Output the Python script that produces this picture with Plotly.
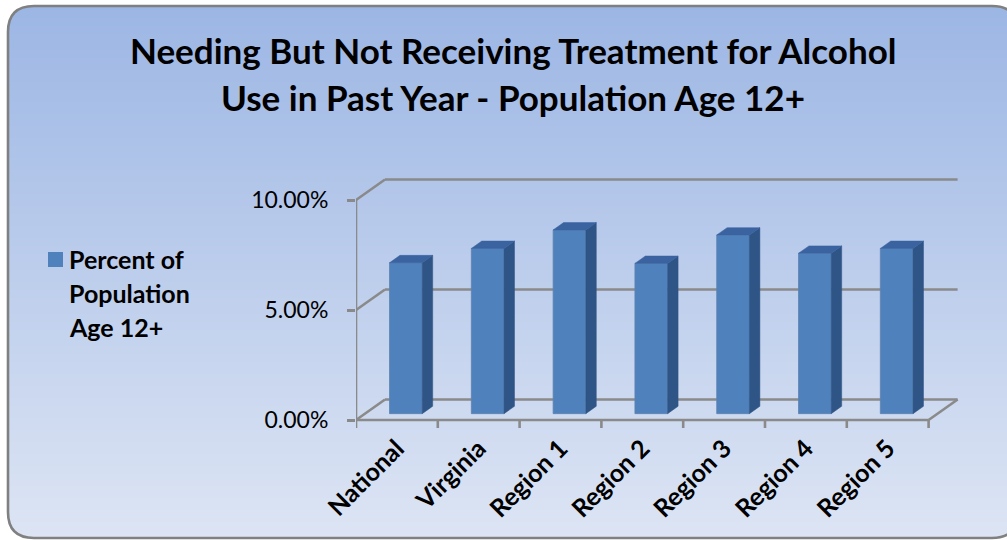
import plotly.graph_objects as go

# ---------------- data ----------------
categories = ["National", "Virginia", "Region 1", "Region 2", "Region 3", "Region 4", "Region 5"]
values = [6.86, 7.51, 8.35, 6.83, 8.12, 7.29, 7.51]  # percent of population age 12+
y_tickvals = [0, 5, 10]
y_ticktext = ["0.00%", "5.00%", "10.00%"]
series_name = "Percent of Population Age 12+"
title_lines = ["Needing But Not Receiving Treatment for Alcohol",
               "Use in Past Year - Population Age 12+"]
legend_lines = ["Percent of", "Population", "Age 12+"]

# ---------------- geometry ----------------
W, H = 1007, 540
L, R, T, B = 356, 960, 175, 428          # plot area in pixels
PX_X = 81.8                              # pixels per category
PX_Y = 22.0                              # pixels per percent
ZERO_PX = 420
x0 = -0.5
x1 = x0 + (R - L) / PX_X
y0 = -(B - ZERO_PX) / PX_Y
y1 = (ZERO_PX - T) / PX_Y
DX = 29 / PX_X       # depth offset of back wall (x, data units)
DY = 20.5 / PX_Y     # depth offset of back wall (y, data units)
F = 0.31             # depth position of bar front faces
D = 0.36             # bar depth
HW = 0.2             # half width of bar

GRAY = "rgb(138,138,138)"
FRONT = "#4f81bd"
SIDE = "#2f5486"
TOP = "#3a63a0"
FONT = "Lato"

def px_x(px):
    return (px - L) / (R - L)

def px_y(py):
    return (B - py) / (B - T)

shapes = []

# gradient background inside the rounded frame
bx0, by0, bx1, by1, rad = 8, 6, 1018, 538, 26
c_top = (156, 182, 228)
c_bot = (221, 229, 244)
n_bands = 133
band_h = (by1 - by0) / n_bands
for k in range(n_bands):
    t = (k + 0.5) / n_bands
    col = tuple(round(c_top[j] + (c_bot[j] - c_top[j]) * t) for j in range(3))
    ya = by0 + k * band_h
    yb = ya + band_h + 0.6
    shapes.append(dict(type="rect", xref="paper", yref="paper", layer="below",
                       x0=px_x(bx0), x1=px_x(bx1), y0=px_y(min(yb, by1)), y1=px_y(ya),
                       line=dict(width=0), fillcolor="rgb(%d,%d,%d)" % col))

def P(x, y):
    return "%.5f,%.5f" % (px_x(x), px_y(y))

# white masks outside the rounded corners
corner_masks = [
    "M %s Q %s %s L %s Z" % (P(bx0, by0 + rad), P(bx0, by0), P(bx0 + rad, by0), P(bx0, by0)),
    "M %s Q %s %s L %s Z" % (P(bx1 - rad, by0), P(bx1, by0), P(bx1, by0 + rad), P(bx1, by0)),
    "M %s Q %s %s L %s Z" % (P(bx1, by1 - rad), P(bx1, by1), P(bx1 - rad, by1), P(bx1, by1)),
    "M %s Q %s %s L %s Z" % (P(bx0 + rad, by1), P(bx0, by1), P(bx0, by1 - rad), P(bx0, by1)),
]
for pth in corner_masks:
    shapes.append(dict(type="path", xref="paper", yref="paper", layer="below", path=pth,
                       fillcolor="white", line=dict(width=0)))

border = ("M %s L %s Q %s %s L %s Q %s %s L %s Q %s %s L %s Q %s %s Z" % (
    P(bx0 + rad, by0), P(bx1 - rad, by0), P(bx1, by0), P(bx1, by0 + rad),
    P(bx1, by1 - rad), P(bx1, by1), P(bx1 - rad, by1),
    P(bx0 + rad, by1), P(bx0, by1), P(bx0, by1 - rad),
    P(bx0, by0 + rad), P(bx0, by0), P(bx0 + rad, by0)))
shapes.append(dict(type="path", xref="paper", yref="paper", layer="below", path=border,
                   line=dict(color="rgb(128,128,128)", width=2.6)))

# 3D frame: back-wall gridlines, side-wall diagonals, floor
n = len(categories)
xl, xr = -0.5, n - 0.5
line_style = dict(color=GRAY, width=2.6)
for v in y_tickvals:
    shapes.append(dict(type="line", xref="x", yref="y", layer="below",
                       x0=xl + DX, x1=xr + DX, y0=v + DY, y1=v + DY, line=line_style))
    shapes.append(dict(type="line", xref="x", yref="y", layer="below",
                       x0=xl, x1=xl + DX, y0=v, y1=v + DY, line=line_style))
shapes.append(dict(type="line", xref="x", yref="y", layer="below",
                   x0=xl, x1=xl, y0=0, y1=max(y_tickvals), line=line_style))
shapes.append(dict(type="line", xref="x", yref="y", layer="below",
                   x0=xl, x1=xr, y0=0, y1=0, line=line_style))
shapes.append(dict(type="line", xref="x", yref="y", layer="below",
                   x0=xr, x1=xr + DX, y0=0, y1=DY, line=line_style))
for i in range(n + 1):
    shapes.append(dict(type="line", xref="x", yref="y", layer="below",
                       x0=i - 0.5, x1=i - 0.5, y0=0, y1=-8 / PX_Y, line=line_style))

# legend swatch
shapes.append(dict(type="rect", xref="paper", yref="paper", layer="above",
                   x0=px_x(48), x1=px_x(63), y0=px_y(267), y1=px_y(252),
                   fillcolor=FRONT, line=dict(width=0)))

# ---------------- traces ----------------
base = F * DY
front = go.Bar(x=list(range(n)), y=values, base=base, width=2 * HW, offset=F * DX - HW,
               marker=dict(color=FRONT, line=dict(color="rgba(95,130,175,0.8)", width=1)),
               name=series_name, showlegend=False, hoverinfo="skip")

side_x, side_y, top_x, top_y = [], [], [], []
for i, v in enumerate(values):
    left = i + F * DX - HW
    right = i + F * DX + HW
    top = base + v
    side_x += [right, right + D * DX, right + D * DX, right, right, None]
    side_y += [base, base + D * DY, top + D * DY, top, base, None]
    top_x += [left, left + D * DX, right + D * DX, right, left, None]
    top_y += [top, top + D * DY, top + D * DY, top, top, None]

side = go.Scatter(x=side_x, y=side_y, mode="lines", fill="toself", fillcolor=SIDE,
                  line=dict(color=SIDE, width=0.5), showlegend=False, hoverinfo="skip")
topf = go.Scatter(x=top_x, y=top_y, mode="lines", fill="toself", fillcolor=TOP,
                  line=dict(color=TOP, width=0.5), showlegend=False, hoverinfo="skip")

fig = go.Figure([front, side, topf])

annotations = []
for k, (txt, yy) in enumerate(zip(title_lines, [50, 97])):
    annotations.append(dict(text="<b>%s</b>" % txt, xref="paper", yref="paper",
                            x=px_x(513), y=px_y(yy), xanchor="center", yanchor="middle",
                            showarrow=False, font=dict(family=FONT, size=35, color="black")))
for txt, yy in zip(legend_lines, [259, 293, 327]):
    annotations.append(dict(text="<b>%s</b>" % txt, xref="paper", yref="paper",
                            x=px_x(67), y=px_y(yy), xanchor="left", yanchor="middle",
                            showarrow=False, font=dict(family=FONT, size=25, color="black")))

fig.update_layout(
    width=W, height=H,
    margin=dict(l=L, r=W - R, t=T, b=H - B, pad=0),
    paper_bgcolor="white", plot_bgcolor="rgba(0,0,0,0)",
    showlegend=False,
    shapes=shapes, annotations=annotations,
    xaxis=dict(range=[x0, x1], tickvals=list(range(n)), ticktext=["<b>%s</b>" % c for c in categories],
               tickangle=-45, ticks="", showgrid=False, zeroline=False, showline=False,
               tickfont=dict(family=FONT, size=25, color="black"), fixedrange=True),
    yaxis=dict(range=[y0, y1], tickvals=y_tickvals, ticktext=y_ticktext,
               ticks="outside", ticklen=8, tickwidth=2.6, tickcolor=GRAY,
               showgrid=False, zeroline=False, showline=False, ticklabelstandoff=14,
               tickfont=dict(family=FONT, size=23, color="black"), fixedrange=True),
)

fig.write_html("out.html")
